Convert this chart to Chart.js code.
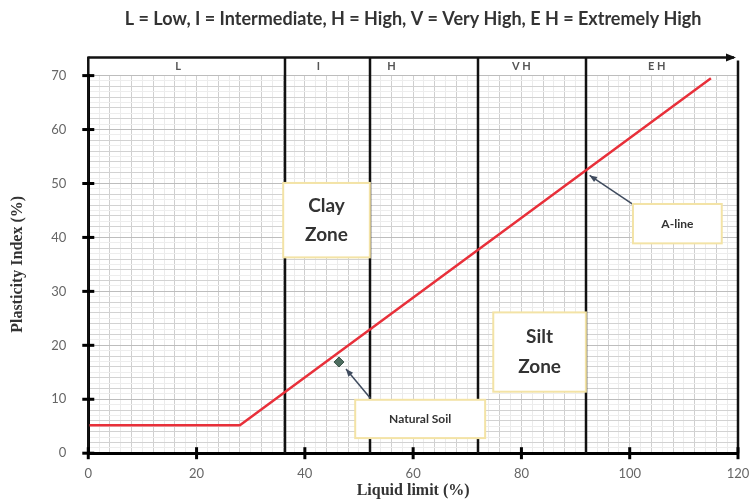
<!DOCTYPE html>
<html>
<head>
<meta charset="utf-8">
<script src="https://cdn.jsdelivr.net/npm/chart.js@4"></script>
<style>
  html, body { margin: 0; padding: 0; background: #fff; }
  #wrap { width: 751px; height: 502px; }
</style>
</head>
<body>
<div id="wrap"><canvas id="chart"></canvas></div>
<script>
// A-line vertices (liquid limit, plasticity index)
const liquidLimit = [0, 28, 115]
const plasticityIndex = [5.2, 5.2, 69.5]

// natural soil sample
const soilLiquidLimit = [46.3]
const soilPlasticity = [16.9]

// plasticity zones
const zoneBoundaries = [36.3, 52, 72, 92]
const zoneLabels = ["L", "I", "H", "V H", "E H"]
const zoneLabelAt = [16.6, 42.5, 56, 80, 105]

const xTickLabels = [0, 20, 40, 60, 80, 100, 120]
const yTickLabels = [0, 10, 20, 30, 40, 50, 60, 70]

// text boxes drawn on top of the plot, in data units
const notes = [
  { lines: ["Clay", "Zone"], x0: 36, x1: 52, y0: 50.1, y1: 36.3, size: 19 },
  { lines: ["Silt", "Zone"], x0: 74.8, x1: 91.9, y0: 26.1, y1: 11.4, size: 19 },
  { lines: ["Natural Soil"], x0: 49.3, x1: 73.3, y0: 9.9, y1: 2.8, size: 12 },
  { lines: ["A-line"], x0: 100.6, x1: 117, y0: 46.2, y1: 38.9, size: 12 }
]
const pointers = [
  { from: [100.8, 46.0], to: [92.6, 51.5] },
  { from: [52.1, 10.2], to: [47.6, 15.6] }
]

const frame = {
  id: "frame",
  beforeDatasetsDraw(chart) {
    const { ctx, chartArea: a, scales: { x } } = chart
    const top = a.top - 18
    ctx.save()
    ctx.strokeStyle = "#111"
    ctx.lineWidth = 2.5
    zoneBoundaries.forEach(v => {
      const px = Math.round(x.getPixelForValue(v))
      ctx.beginPath()
      ctx.moveTo(px, top)
      ctx.lineTo(px, a.bottom)
      ctx.stroke()
    })
    ctx.restore()
  },
  afterDatasetsDraw(chart) {
    const { ctx, chartArea: a, scales: { x, y } } = chart
    const top = a.top - 18
    ctx.save()

    // header band
    ctx.strokeStyle = "#111"
    ctx.lineWidth = 2.5
    ctx.beginPath()
    ctx.moveTo(a.left, top)
    ctx.lineTo(a.right - 4, top)
    ctx.stroke()
    ctx.fillStyle = "#111"
    ctx.beginPath()
    ctx.moveTo(a.right - 2, top)
    ctx.lineTo(a.right - 12, top - 4)
    ctx.lineTo(a.right - 12, top + 4)
    ctx.closePath()
    ctx.fill()
    ctx.beginPath()
    ctx.moveTo(a.left, top - 1)
    ctx.lineTo(a.left, a.bottom)
    ctx.moveTo(a.right, top + 3)
    ctx.lineTo(a.right, a.bottom)
    ctx.stroke()

    ctx.fillStyle = "#555"
    ctx.font = "bold 11px Lato"
    ctx.textAlign = "center"
    ctx.textBaseline = "middle"
    zoneLabels.forEach((t, i) => {
      ctx.fillText(t, x.getPixelForValue(zoneLabelAt[i]), top + 9)
    })

    // tick crosses
    ctx.strokeStyle = "#000"
    ctx.lineWidth = 3
    yTickLabels.forEach(v => {
      const py = y.getPixelForValue(v)
      ctx.beginPath()
      ctx.moveTo(a.left - 6, py)
      ctx.lineTo(a.left + 6, py)
      ctx.stroke()
    })
    xTickLabels.forEach(v => {
      const px = x.getPixelForValue(v)
      ctx.beginPath()
      ctx.moveTo(px, a.bottom - 6)
      ctx.lineTo(px, a.bottom + 6)
      ctx.stroke()
    })

    // pointer arrows
    ctx.strokeStyle = "#3f4b5e"
    ctx.fillStyle = "#3f4b5e"
    ctx.lineWidth = 1.5
    pointers.forEach(p => {
      const fx = x.getPixelForValue(p.from[0]), fy = y.getPixelForValue(p.from[1])
      const tx = x.getPixelForValue(p.to[0]), ty = y.getPixelForValue(p.to[1])
      const ang = Math.atan2(ty - fy, tx - fx)
      ctx.beginPath()
      ctx.moveTo(fx, fy)
      ctx.lineTo(tx, ty)
      ctx.stroke()
      ctx.beginPath()
      ctx.moveTo(tx, ty)
      ctx.lineTo(tx - 8 * Math.cos(ang - 0.4), ty - 8 * Math.sin(ang - 0.4))
      ctx.lineTo(tx - 8 * Math.cos(ang + 0.4), ty - 8 * Math.sin(ang + 0.4))
      ctx.closePath()
      ctx.fill()
    })

    // text boxes
    notes.forEach(n => {
      const l = x.getPixelForValue(n.x0), r = x.getPixelForValue(n.x1)
      const t = y.getPixelForValue(n.y0), b = y.getPixelForValue(n.y1)
      ctx.fillStyle = "#fff"
      ctx.fillRect(l, t, r - l, b - t)
      ctx.strokeStyle = "#f3e3a6"
      ctx.lineWidth = 2
      ctx.strokeRect(l, t, r - l, b - t)
      ctx.fillStyle = "#333"
      ctx.font = "bold " + n.size + "px Lato"
      const lh = n.size * 1.55
      const cy = (t + b) / 2 - (n.lines.length - 1) * lh / 2
      n.lines.forEach((s, i) => ctx.fillText(s, (l + r) / 2, cy + i * lh))
    })
    ctx.restore()
  }
}

new Chart(document.getElementById("chart"), {
  type: "scatter",
  data: {
    datasets: [
      {
        label: "A-line",
        data: liquidLimit.map((v, i) => ({ x: v, y: plasticityIndex[i] })),
        showLine: true,
        borderColor: "#e8303a",
        borderWidth: 2.5,
        pointRadius: 0
      },
      {
        label: "Natural Soil",
        data: soilLiquidLimit.map((v, i) => ({ x: v, y: soilPlasticity[i] })),
        pointStyle: "rectRot",
        pointRadius: 5,
        backgroundColor: "#4d6d5f",
        borderColor: "#3b5549",
        borderWidth: 1
      }
    ]
  },
  options: {
    responsive: true,
    maintainAspectRatio: false,
    animation: false,
    layout: { padding: { left: 4, right: 0, top: 0, bottom: 0 } },
    plugins: {
      legend: { display: false },
      tooltip: { enabled: false },
      title: {
        display: true,
        fullSize: false,
        text: "L = Low, I = Intermediate, H = High, V = Very High, E H = Extremely High",
        color: "#333",
        font: { family: "Lato", size: 18, weight: "bold" },
        padding: { top: 8, bottom: 46 }
      }
    },
    scales: {
      x: {
        min: 0, max: 120,
        afterFit: s => { s.paddingRight = 13 },
        border: { color: "#000", width: 3 },
        grid: {
          drawTicks: false,
          color: c => c.tick.value % 4 === 0 ? "#cfcfcf" : "#ebebeb"
        },
        ticks: {
          stepSize: 2, autoSkip: false, maxTicksLimit: 100,
          maxRotation: 0, minRotation: 0,
          padding: 13,
          color: "#666",
          font: { family: "Lato", size: 13 },
          callback: v => xTickLabels.includes(v) ? v : ""
        },
        title: {
          display: true,
          text: "Liquid limit (%)",
          color: "#333",
          font: { family: "Liberation Serif", size: 16, weight: "bold" },
          padding: { top: -14, bottom: 2 }
        }
      },
      y: {
        min: 0, max: 70,
        border: { color: "#000", width: 3 },
        grid: {
          drawTicks: false,
          color: c => c.tick.value % 10 === 0 ? "#bdbdbd" : c.tick.value % 2 === 0 ? "#d2d2d2" : "#ededed"
        },
        ticks: {
          stepSize: 1, autoSkip: false, maxTicksLimit: 100,
          padding: 22,
          color: "#666",
          font: { family: "Lato", size: 13 },
          callback: v => yTickLabels.includes(v) ? v : ""
        },
        title: {
          display: true,
          text: "Plasticity Index (%)",
          color: "#333",
          font: { family: "Liberation Serif", size: 16, weight: "bold" },
          padding: { top: 4, bottom: 2 }
        }
      }
    }
  },
  plugins: [frame]
})
</script>
</body>
</html>
